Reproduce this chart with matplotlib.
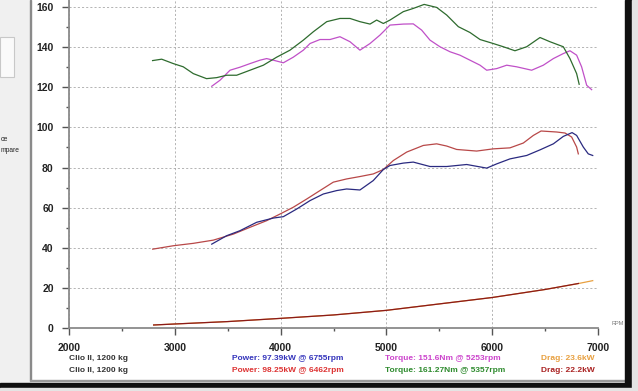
import numpy as np
import matplotlib
matplotlib.use("Agg")
import matplotlib.pyplot as plt
from matplotlib.patches import Rectangle
from matplotlib.ticker import MultipleLocator

plt.rcParams['font.family'] = ['Liberation Sans', 'DejaVu Sans']

# torque, run 1 (magenta) and run 2 (green), Nm
tq1_rpm = [3349, 3427, 3522, 3616, 3711, 3805, 3868, 3931, 4026, 4120, 4215, 4278, 4372, 4467,
           4561, 4656, 4750, 4845, 4939, 5034, 5160, 5254, 5333, 5412, 5506, 5601, 5695, 5790,
           5885, 5948, 6042, 6137, 6231, 6373, 6483, 6578, 6672, 6735, 6798, 6845, 6893, 6940]
tq1 = [120.5, 123.5, 128.5, 130, 131.8, 133.5, 134.3, 133.5, 132.2, 135, 138.5, 141.8, 143.8, 143.8,
       145.2, 142.7, 138.5, 141.8, 146, 151, 151.5, 151.6, 148.5, 143.5, 140.2, 137.7, 136, 133.5,
       131, 128.5, 129.3, 131, 130.2, 128.5, 131, 134.3, 136.8, 138.2, 136, 130.2, 121, 118.8]

tq2_rpm = [2790, 2876, 2986, 3080, 3175, 3300, 3396, 3490, 3585, 3711, 3837, 3963, 4089, 4215,
           4310, 4436, 4561, 4656, 4750, 4845, 4908, 4971, 5034, 5160, 5254, 5357, 5475, 5570,
           5680, 5790, 5885, 6010, 6105, 6215, 6326, 6452, 6546, 6672, 6735, 6798, 6822]
tq2 = [133.3, 134, 131.8, 130.2, 126.8, 124.3, 124.8, 126, 126, 128.5, 131, 135, 138.5, 143.5,
       147.7, 152.7, 154.3, 154.3, 152.7, 151.5, 153.5, 151.8, 153.5, 157.7, 159.3, 161.3, 159.8, 156,
       150.2, 147.3, 143.8, 141.8, 140.2, 138.2, 140.2, 144.8, 142.7, 140.2, 134.3, 126.8, 121.5]

# power, run 1 (blue) and run 2 (red), kW
pw1_rpm = [3349, 3490, 3616, 3774, 3931, 4026, 4152, 4278, 4404, 4530, 4624, 4750, 4876, 4971,
           5034, 5160, 5254, 5412, 5570, 5759, 5948, 6042, 6168, 6326, 6452, 6578, 6672, 6755,
           6798, 6861, 6908, 6950]
pw1 = [41.8, 46, 48.5, 52.7, 54.8, 55.5, 59.3, 63.5, 66.8, 68.5, 69.3, 68.8, 73.5, 79,
       81, 82.2, 82.7, 80.5, 80.5, 81.5, 79.7, 81.8, 84.3, 86, 88.8, 91.8, 95.5, 97.4,
       96, 90.2, 86.8, 86]

pw2_rpm = [2791, 2986, 3175, 3364, 3553, 3711, 3868, 3994, 4120, 4247, 4372, 4498, 4624, 4750,
           4876, 4971, 5066, 5192, 5349, 5475, 5570, 5664, 5853, 6010, 6168, 6294, 6389, 6462,
           6609, 6688, 6751, 6798, 6814]
pw2 = [39.3, 41, 42.2, 43.8, 46.8, 50.2, 53.5, 56.8, 60.2, 64.3, 68.5, 72.7, 74.3, 75.5,
       76.8, 79, 83.5, 87.7, 91, 91.8, 90.7, 89, 88.2, 89.3, 89.8, 92.2, 96, 98.2,
       97.7, 97.2, 95.2, 90.2, 86.8]

# drag, kW
dr1_rpm = [2800, 3000, 3500, 4000, 4500, 5000, 5500, 6000, 6500, 6800, 6950]
dr1 = [1.5, 2.0, 3.2, 4.8, 6.5, 8.8, 12.0, 15.2, 19.2, 22.0, 23.6]
dr2_rpm = [2800, 3000, 3500, 4000, 4500, 5000, 5500, 6000, 6500, 6815]
dr2 = [1.5, 2.0, 3.2, 4.8, 6.5, 8.8, 12.0, 15.2, 19.2, 22.2]

legend_rows = [
    ("Clio II, 1200 kg", "Power: 97.39kW @ 6755rpm", "Torque: 151.6Nm @ 5253rpm", "Drag: 23.6kW"),
    ("Clio II, 1200 kg", "Power: 98.25kW @ 6462rpm", "Torque: 161.27Nm @ 5357rpm", "Drag: 22.2kW"),
]
row_colors = [
    ("#333333", "#3333bb", "#cc44cc", "#e8a040"),
    ("#333333", "#dd3333", "#2e8b2e", "#aa2222"),
]

W, H = 638, 391
fig = plt.figure(figsize=(W / 100, H / 100), dpi=100)
fig.patch.set_facecolor("white")

# window chrome around the plot
fig.add_artist(Rectangle((0, 0), 30 / W, 1, transform=fig.transFigure, color="#f0f0f0", zorder=0))
fig.add_artist(Rectangle((0, 1 - 77 / H), 14 / W, 40 / H, transform=fig.transFigure,
                         facecolor="#fafafa", edgecolor="#c8c8c8", lw=0.8, zorder=1))
fig.add_artist(Rectangle((30 / W, 11 / H), 1.2 / W, 1 - 11 / H, transform=fig.transFigure,
                         color="#8a8a8a", zorder=1))
fig.add_artist(Rectangle((30 / W, 10 / H), 597 / W, 1 / H, transform=fig.transFigure,
                         color="#9a9a9a", zorder=1))
fig.add_artist(Rectangle((0, 3 / H), 632 / W, 5 / H, transform=fig.transFigure, color="#101010", zorder=1))
fig.add_artist(Rectangle((625 / W, 3 / H), 7 / W, 1 - 3 / H, transform=fig.transFigure,
                         color="#101010", zorder=1))
fig.add_artist(Rectangle((632 / W, 0), 6 / W, 1, transform=fig.transFigure, color="#e4e4e4", zorder=1))
fig.add_artist(Rectangle((0, 0), 1, 3 / H, transform=fig.transFigure, color="#e4e4e4", zorder=1))
fig.text(1 / W, 1 - 140 / H, "ce", ha="left", va="center", fontsize=5, color="#222222")
fig.text(0.5 / W, 1 - 151 / H, "mpare", ha="left", va="center", fontsize=4.8, color="#222222")

ax = fig.add_axes([69 / W, 1 - 328 / H, 529 / W, 328 / H])
ax.set_facecolor("none")

ax.plot(dr1_rpm, dr1, color="#e8a040", lw=0.9)
ax.plot(dr2_rpm, dr2, color="#8b1a1a", lw=0.9)
ax.plot(pw2_rpm, pw2, color="#b84848", lw=0.9)
ax.plot(pw1_rpm, pw1, color="#2a2a80", lw=0.9)
ax.plot(tq1_rpm, tq1, color="#c050c8", lw=0.9)
ax.plot(tq2_rpm, tq2, color="#2e6b2e", lw=0.9)

ax.set_xlim(2000, 7000)
ax.set_ylim(0, 163.5)
ax.xaxis.set_major_locator(MultipleLocator(1000))
ax.xaxis.set_minor_locator(MultipleLocator(500))
ax.yaxis.set_major_locator(MultipleLocator(20))
ax.yaxis.set_minor_locator(MultipleLocator(10))

ax.grid(True, which="major", color="#a8a8a8", lw=0.6, linestyle=(0, (2.5, 2.5)))
for s in ["top", "right"]:
    ax.spines[s].set_visible(False)
for s in ["left", "bottom"]:
    ax.spines[s].set_color("#8a8a8a")
    ax.spines[s].set_linewidth(1.3)

ax.tick_params(which="major", length=5, width=1, color="#555555", labelsize=7.5,
               labelcolor="#222222", pad=6)
ax.tick_params(which="minor", length=2.5, width=1, color="#555555")
for lab in ax.get_xticklabels() + ax.get_yticklabels():
    lab.set_fontweight("bold")

ax.text(1.025, 0.005, "RPM", transform=ax.transAxes, fontsize=4, color="#777777",
        ha="left", va="bottom")

# legend rows under the axis
col_x = [69, 232, 385, 541]
for r, (row, cols) in enumerate(zip(legend_rows, row_colors)):
    y = 1 - (358 + 13 * r) / H
    for x, txt, c in zip(col_x, row, cols):
        fig.text(x / W, y, txt, ha="left", va="center", fontsize=6, fontweight="bold", color=c)

fig.savefig("out.png", dpi=100)
